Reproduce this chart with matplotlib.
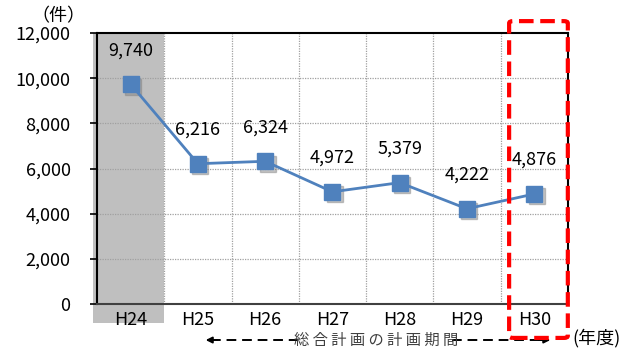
import matplotlib
matplotlib.use("Agg")
import matplotlib.pyplot as plt
from matplotlib.patches import FancyBboxPatch, Rectangle
import matplotlib.transforms as mtransforms

plt.rcParams['font.family'] = ['Noto Sans CJK JP', 'DejaVu Sans']

# 年度別件数
years = ['H24', 'H25', 'H26', 'H27', 'H28', 'H29', 'H30']
counts = [9740, 6216, 6324, 4972, 5379, 4222, 4876]
yticks = [0, 2000, 4000, 6000, 8000, 10000, 12000]

FS = 13

fig = plt.figure(figsize=(6.38, 3.52), dpi=100)
ax = fig.add_axes([0.152, 0.136, 0.738, 0.770])

x = list(range(len(years)))
ax.set_xlim(-0.5, len(years) - 0.5)
ax.set_ylim(0, 12000)

# H24 の網掛け(軸の外まで伸ばす)
shade = Rectangle((-0.56, -0.07), 1.06, 1.07, transform=mtransforms.blended_transform_factory(ax.transData, ax.transAxes),
                  facecolor='#BFBFBF', edgecolor='none', clip_on=False, zorder=0)
ax.add_patch(shade)

# グリッド
for v in yticks[1:-1]:
    ax.axhline(v, color='#A0A0A0', lw=0.9, ls=(0, (1, 1)), zorder=1)
for b in range(1, len(years)):
    ax.axvline(b - 0.5, color='#A0A0A0', lw=0.9, ls=(0, (1, 1)), zorder=1)

# マーカーの影
shadow = mtransforms.offset_copy(ax.transData, fig=fig, x=2.5, y=-2.5, units='dots')
ax.plot(x, counts, ls='none', marker='s', ms=11, color='#808080', alpha=0.45,
        transform=shadow, zorder=2)
ax.plot(x, counts, color='#4F81BD', lw=2, marker='s', ms=11, zorder=3)

for i, v in enumerate(counts):
    ax.annotate(f'{v:,}', (i, v), xytext=(0, 18), textcoords='offset points',
                ha='center', va='bottom', fontsize=FS, zorder=4)

ax.set_yticks(yticks)
ax.set_yticklabels([f'{v:,}' for v in yticks], fontsize=FS)
ax.set_xticks(x)
ax.set_xticklabels(years, fontsize=FS)
ax.tick_params(axis='x', length=0, pad=5)
ax.tick_params(axis='y', length=5, width=1.2, direction='out', pad=14)
for s in ax.spines.values():
    s.set_linewidth(1.5)
    s.set_color('black')
ax.spines['bottom'].set_color('#404040')

fig.text(0.092, 0.955, '（件）', fontsize=FS, ha='center', va='center')

# 計画期間の矢印
fig.text(0.59, 0.034, '総 合 計 画 の 計 画 期 間', fontsize=11, ha='center', va='center', color='#404040')
fig.add_artist(plt.Line2D([0.33, 0.475], [0.034, 0.034], color='black', lw=1.4, ls=(0, (5, 3))))
fig.add_artist(plt.Line2D([0.708, 0.855], [0.034, 0.034], color='black', lw=1.4, ls=(0, (5, 3))))
ax.annotate('', xy=(0.318, 0.034), xytext=(0.345, 0.034), xycoords='figure fraction',
            arrowprops=dict(arrowstyle='-|>', color='black', lw=1.4, mutation_scale=9))
ax.annotate('', xy=(0.867, 0.034), xytext=(0.84, 0.034), xycoords='figure fraction',
            arrowprops=dict(arrowstyle='-|>', color='black', lw=1.4, mutation_scale=9))
fig.text(0.935, 0.04, '(年度)', fontsize=FS, ha='center', va='center')

# H30 を囲む赤い破線枠
frame = FancyBboxPatch((0.798, 0.04), 0.092, 0.9, boxstyle='round,pad=0,rounding_size=0.006',
                       transform=fig.transFigure, fill=False, edgecolor='#FF0000', lw=3,
                       ls=(0, (3.5, 1.6)), zorder=10)
fig.add_artist(frame)

fig.savefig('out.png', dpi=100)
